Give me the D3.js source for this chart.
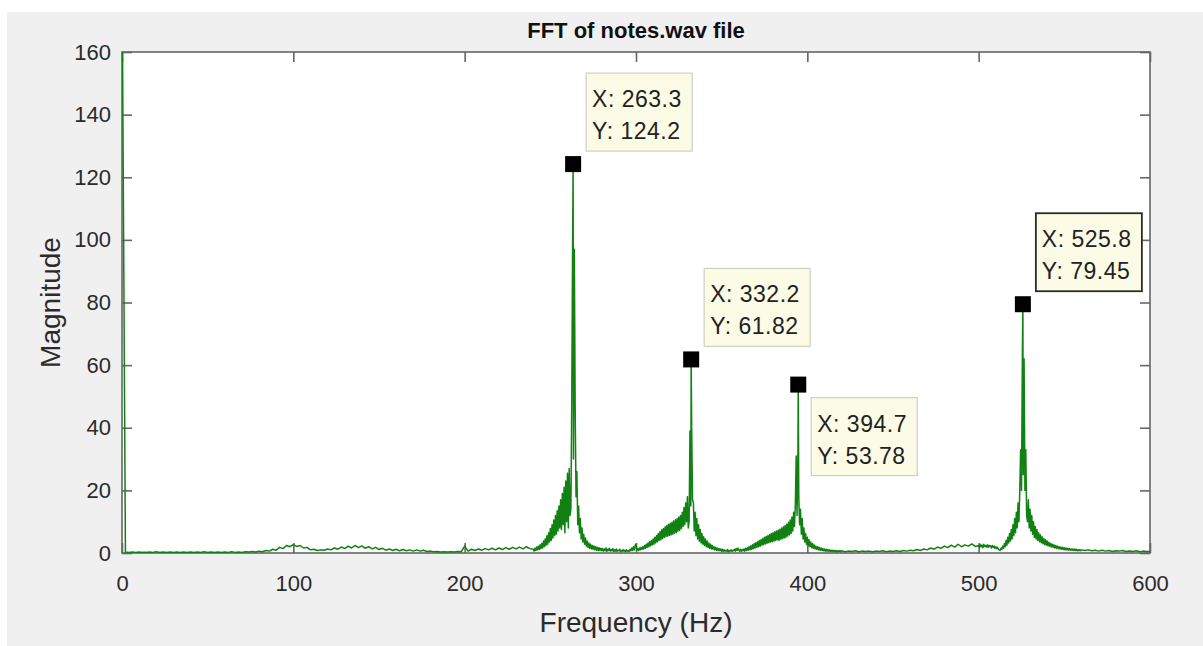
<!DOCTYPE html>
<html>
<head>
<meta charset="utf-8">
<script src="https://cdn.jsdelivr.net/npm/d3@7/dist/d3.min.js"></script>
<style>
  html, body { margin: 0; padding: 0; background: #ffffff; }
  svg { display: block; }
  text { font-family: "Liberation Sans", Arial, Helvetica, sans-serif; }
</style>
</head>
<body>
<svg id="chart" width="1203" height="646"></svg>
<script>
// ---- spectrum magnitudes, grouped in frequency bands ----
// each band starts at bandStartHz[k] and is sampled every bandStepHz[k] Hz
const bandStartHz = [0, 240, 300, 360, 420, 500, 560];
const bandStepHz  = [2, 0.5, 0.5, 0.5, 2, 0.5, 2];

// 0 – 238 Hz (DC term first)
const bandLowMag = [
  190,
  0.3, 0.2, 0.3, 0.2, 0.3, 0.2, 0.2, 0.3, 0.2,
  0.4, 0.2, 0.3, 0.2, 0.3, 0.2, 0.3, 0.2, 0.3, 0.2,
  0.3, 0.2, 0.3, 0.2, 0.4, 0.2, 0.3, 0.2, 0.3, 0.2,
  0.3, 0.2, 0.4, 0.2, 0.3, 0.2, 0.4, 0.3, 0.5, 0.3,
  0.6, 0.4, 0.8, 0.6, 1.2, 0.9, 1.8, 1.4, 2.4, 2.0,
  2.7, 2.1, 2.4, 1.6, 1.8, 1.0, 1.2, 0.8, 1.0, 0.9,
  1.3, 1.0, 1.6, 1.2, 1.9, 1.4, 2.2, 1.6, 2.4, 1.7,
  2.3, 1.5, 2.0, 1.3, 1.8, 1.1, 1.5, 0.9, 1.3, 0.8,
  1.2, 0.7, 1.1, 0.7, 1.0, 0.6, 1.0, 0.6, 0.9, 0.5,
  0.6, 0.4, 0.5, 0.3, 0.4, 0.3, 0.4, 0.3, 0.5, 0.4,
  2.2, 0.6, 1.2, 0.8, 1.3, 0.9, 1.4, 1.0, 1.5, 1.0,
  1.6, 1.1, 1.7, 1.2, 1.8, 1.3, 1.9, 1.3, 2.0, 1.4
];

// 240 – 299.5 Hz, around the C4 note
const bandC4Mag = [
  1.2, 0.6, 1.5, 0.8, 1.9, 1.0, 2.2, 1.1, 2.6, 1.4, 3.0,
  1.6, 3.8, 2.0, 4.5, 2.4, 5.5, 2.8, 6.5, 3.5, 7.8,
  4.0, 9.0, 4.8, 10.5, 5.5, 12.0, 6.0, 13.5, 7.0, 15.0,
  8.0, 17.0, 7.5, 19.0, 9.0, 21.0, 6.5, 23.0, 10.0, 25.5,
  8.0, 27.0, 12.0, 14.0, 48.0, 97.7,
  30.0, 97.0, 46.0, 18.0, 26.0, 9.0,
  15.0, 6.5, 11.0, 4.5, 8.0, 3.5, 6.0, 2.8,
  4.8, 2.2, 3.8, 1.8, 3.2, 1.5, 2.8, 1.3, 2.4, 1.2,
  2.2, 1.0, 2.0, 0.9, 1.8, 0.8, 1.7, 0.8, 1.5, 0.7,
  1.4, 0.6, 1.3, 0.7, 1.6, 0.5, 1.2, 0.8, 1.5, 0.6,
  1.1, 0.7, 1.4, 0.5, 1.0, 0.6, 1.3, 0.5, 0.9, 0.7,
  1.2, 0.4, 0.8, 0.6, 1.1, 0.5, 0.9, 0.4, 1.0, 0.6,
  0.8, 0.5, 1.2, 0.7, 1.6, 0.8, 2.0, 1.0, 2.4
];

// 300 – 359.5 Hz, around the E4 note
const bandE4Mag = [
  2.8, 0.9, 1.4, 0.8, 1.6, 1.0, 1.8, 1.1, 2.0, 1.3, 2.4,
  1.5, 2.8, 1.8, 3.2, 2.0, 3.6, 2.3, 4.0, 2.6, 4.5,
  2.8, 5.0, 3.2, 5.6, 3.6, 6.2, 4.0, 6.8, 4.2, 7.4,
  4.6, 7.8, 5.0, 8.4, 5.2, 8.8, 5.4, 9.2, 5.6, 9.5,
  5.8, 9.8, 6.0, 10.2, 6.3, 10.6, 6.5, 11.0, 7.0, 11.5,
  7.2, 12.0, 7.8, 13.0, 8.5, 14.5, 9.0, 16.0, 10.0, 18.0,
  8.0, 10.0, 39.0, 15.0,
  40.0, 17.0, 16.0, 7.0, 13.0, 5.5,
  11.0, 4.5, 9.0, 3.8, 7.5, 3.2, 6.2, 2.8, 5.2, 2.4,
  4.5, 2.0, 3.8, 1.8, 3.2, 1.5, 2.8, 1.3, 2.4, 1.2,
  2.0, 1.0, 1.8, 0.9, 1.6, 0.8, 1.4, 0.7, 1.3, 0.6,
  1.2, 0.5, 1.0, 0.6, 0.9, 0.5, 1.1, 0.4, 0.8, 0.6,
  1.0, 0.5, 0.9, 0.7, 1.2, 0.6, 1.4, 0.8, 1.6
];

// 360 – 419.5 Hz, around the G4 note
const bandG4Mag = [
  1.0, 0.5, 1.2, 0.6, 1.1, 0.7, 1.3, 0.6, 1.5, 0.8, 1.7,
  0.9, 2.0, 1.0, 2.3, 1.2, 2.6, 1.4, 3.0, 1.6, 3.3,
  1.8, 3.6, 2.0, 4.0, 2.2, 4.3, 2.5, 4.6, 2.7, 5.0,
  2.9, 5.3, 3.1, 5.6, 3.3, 5.9, 3.5, 6.2, 3.6, 6.5,
  3.8, 6.8, 4.0, 7.0, 4.2, 7.3, 4.0, 7.6, 4.4, 8.0,
  4.6, 8.4, 4.8, 8.8, 5.0, 9.2, 5.4, 9.8, 5.8, 10.5,
  6.2, 11.5, 7.0, 13.0, 8.5, 15.5, 31.0, 12.0, 32.0,
  18.0, 9.0, 14.0, 6.0, 11.0, 4.5, 8.0, 3.5, 6.2, 2.8, 5.0,
  2.3, 4.2, 2.0, 3.5, 1.7, 3.0, 1.5, 2.6, 1.3, 2.2,
  1.2, 2.0, 1.0, 1.8, 0.9, 1.6, 0.8, 1.4, 0.7, 1.3,
  0.6, 1.2, 0.6, 1.1, 0.5, 1.0, 0.5, 0.9, 0.4, 0.9,
  0.5, 0.8, 0.4, 0.8, 0.4, 0.7, 0.5, 0.8, 0.4
];

// 420 – 498 Hz
const bandMidMag = [
  0.7, 0.4, 0.6, 0.5, 0.7, 0.4, 0.6, 0.5, 0.6, 0.4,
  0.6, 0.5, 0.7, 0.4, 0.6, 0.5, 0.7, 0.5, 0.8, 0.6,
  0.9, 0.7, 1.1, 0.8, 1.3, 1.0, 1.6, 1.2, 1.9, 1.5,
  2.2, 1.7, 2.5, 1.9, 2.8, 2.0, 2.6, 2.2, 2.9, 2.1
];

// 500 – 559.5 Hz, around the C5 note
const bandC5Mag = [
  2.4, 1.8, 2.7, 2.0, 2.5, 1.7, 2.8, 2.1, 2.4, 1.9, 2.6,
  1.8, 2.5, 2.0, 2.3, 1.6, 2.4, 1.8, 2.2, 1.5, 2.0,
  1.4, 1.8, 1.2, 1.0, 0.8, 1.5, 1.2, 2.2, 1.5, 3.0,
  2.0, 4.0, 2.5, 5.0, 3.2, 6.2, 3.8, 7.5, 4.5, 9.0,
  5.5, 11.0, 6.5, 13.0, 8.0, 16.0, 10.0, 20.0, 33.0, 20.0, 62.5,
  25.0, 62.0, 20.0, 33.0, 12.0, 10.0, 17.0, 8.0, 14.0,
  7.0, 12.0, 6.0, 10.0, 5.0, 8.5, 4.5, 7.5, 4.0, 6.5,
  3.6, 5.8, 3.3, 5.2, 3.0, 4.6, 2.7, 4.2, 2.5, 3.8,
  2.3, 3.4, 2.1, 3.1, 1.9, 2.8, 1.8, 2.6, 1.6, 2.4,
  1.5, 2.2, 1.4, 2.0, 1.3, 1.9, 1.2, 1.8, 1.1, 1.7,
  1.0, 1.6, 1.0, 1.5, 0.9, 1.4, 0.9, 1.3, 0.8, 1.3,
  0.8, 1.2, 0.8, 1.2, 0.7, 1.1, 0.7, 1.0, 0.7
];

// 560 – 600 Hz
const bandHighMag = [
  1.0, 0.8, 1.0, 0.7, 0.9, 0.6, 0.9, 0.6, 0.8, 0.5,
  0.7, 0.6, 0.8, 0.5, 0.6, 0.5, 0.7, 0.4, 0.6, 0.5,
  0.5
];

// spectral peaks picked with data tips
const peakHz  = [263.3, 332.2, 394.7, 525.8];
const peakMag = [124.2, 61.82, 53.78, 79.45];

const xTicks = [0, 100, 200, 300, 400, 500, 600];
const yTicks = [0, 20, 40, 60, 80, 100, 120, 140, 160];

// ---- assemble the sorted spectrum ----
const bands = [bandLowMag, bandC4Mag, bandE4Mag, bandG4Mag, bandMidMag, bandC5Mag, bandHighMag];
const spectrum = [];
bands.forEach((mags, k) => {
  mags.forEach((m, i) => spectrum.push({ f: bandStartHz[k] + i * bandStepHz[k], m }));
});
peakHz.forEach((f, i) => spectrum.push({ f, m: peakMag[i] }));
spectrum.sort((a, b) => a.f - b.f);

// ---- layout ----
const W = 1203, H = 646;
const plot = { left: 122, top: 52, right: 1150, bottom: 553 };
const tickLen = 10;
const axisColor = "#666666";
const textColor = "#2b2b2b";

const svg = d3.select("#chart");

// figure background
svg.append("rect").attr("x", 7).attr("y", 12).attr("width", W - 7).attr("height", H - 12)
  .attr("fill", "#f0f0f0");

const x = d3.scaleLinear().domain([0, 600]).range([plot.left, plot.right]);
const y = d3.scaleLinear().domain([0, 160]).range([plot.bottom, plot.top]);

// axes area
svg.append("rect").attr("x", plot.left).attr("y", plot.top)
  .attr("width", plot.right - plot.left).attr("height", plot.bottom - plot.top)
  .attr("fill", "#ffffff");

svg.append("clipPath").attr("id", "plotClip")
  .append("rect").attr("x", plot.left).attr("y", plot.top)
  .attr("width", plot.right - plot.left).attr("height", plot.bottom - plot.top);

// axis box and tick marks on all four sides
const frame = svg.append("g").attr("stroke", axisColor).attr("stroke-width", 1.6).attr("fill", "none");
frame.append("rect").attr("x", plot.left).attr("y", plot.top)
  .attr("width", plot.right - plot.left).attr("height", plot.bottom - plot.top);

const xAxisB = d3.axisBottom(x).tickValues(xTicks).tickSize(-tickLen).tickPadding(22).tickFormat(d3.format("d"));
const xAxisT = d3.axisTop(x).tickValues(xTicks).tickSize(-tickLen).tickFormat("");
const yAxisL = d3.axisLeft(y).tickValues(yTicks).tickSize(-tickLen).tickPadding(11).tickFormat(d3.format("d"));
const yAxisR = d3.axisRight(y).tickValues(yTicks).tickSize(-tickLen).tickFormat("");

function styleAxis(g) {
  g.select(".domain").remove();
  g.selectAll(".tick line").attr("stroke", axisColor).attr("stroke-width", 1.6);
  g.selectAll(".tick text").attr("fill", textColor)
    .style("font-size", "22px").style("font-family", "'Liberation Sans', Arial, sans-serif");
}
svg.append("g").attr("transform", `translate(0,${plot.bottom})`).call(xAxisB).call(styleAxis);
svg.append("g").attr("transform", `translate(0,${plot.top})`).call(xAxisT).call(styleAxis);
svg.append("g").attr("transform", `translate(${plot.left},0)`).call(yAxisL).call(styleAxis);
svg.append("g").attr("transform", `translate(${plot.right},0)`).call(yAxisR).call(styleAxis);

// spectrum trace
const line = d3.line().x(d => x(d.f)).y(d => y(d.m));
svg.append("path").datum(spectrum)
  .attr("clip-path", "url(#plotClip)")
  .attr("d", line)
  .attr("fill", "none")
  .attr("stroke", "#118211")
  .attr("stroke-width", 1.5)
  .attr("stroke-linejoin", "round");

// title and axis labels
svg.append("text").attr("x", (plot.left + plot.right) / 2).attr("y", 38)
  .attr("text-anchor", "middle").attr("fill", "#111")
  .style("font-size", "22px").style("font-weight", "bold")
  .text("FFT of notes.wav file");

svg.append("text").attr("x", (plot.left + plot.right) / 2).attr("y", 632)
  .attr("text-anchor", "middle").attr("fill", textColor)
  .style("font-size", "28px")
  .text("Frequency (Hz)");

svg.append("text")
  .attr("transform", `translate(60,${(plot.top + plot.bottom) / 2}) rotate(-90)`)
  .attr("text-anchor", "middle").attr("fill", textColor)
  .style("font-size", "28px")
  .text("Magnitude");

// data tips
const fmt = d3.format(".4r");
const tipBelow = [false, false, true, false];
const tipSelected = [false, false, false, true];
const tipW = 106, tipH = 78, gap = 13, markerSize = 16;

const tips = svg.append("g");
peakHz.forEach((f, i) => {
  const cx = x(f), cy = y(peakMag[i]);
  const bx = cx + gap;
  const by = tipBelow[i] ? cy + gap : cy - gap - tipH;
  tips.append("rect").attr("x", cx - markerSize / 2).attr("y", cy - markerSize / 2)
    .attr("width", markerSize).attr("height", markerSize).attr("fill", "#000");
  tips.append("rect").attr("x", bx).attr("y", by).attr("width", tipW).attr("height", tipH)
    .attr("fill", "#fbfbe6")
    .attr("stroke", tipSelected[i] ? "#2a2a2a" : "#cfcfc4")
    .attr("stroke-width", tipSelected[i] ? 1.8 : 1.2);
  const t = tips.append("text").attr("fill", "#222").style("font-size", "23px")
    .style("letter-spacing", "0.5px");
  t.append("tspan").attr("x", bx + 6).attr("y", by + 34).text(`X: ${fmt(f)}`);
  t.append("tspan").attr("x", bx + 6).attr("y", by + 66).text(`Y: ${fmt(peakMag[i])}`);
});
</script>
</body>
</html>
